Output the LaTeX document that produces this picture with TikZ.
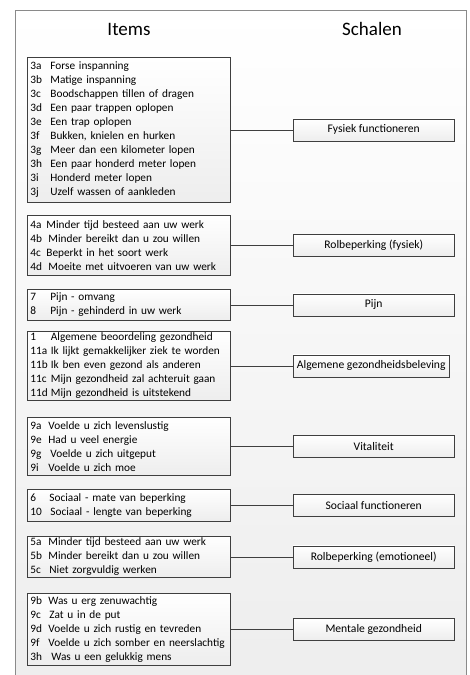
\documentclass[tikz,border=0pt]{standalone}
\usepackage{fontspec}
\setmainfont{Carlito}
\usepackage{tikz}
\usetikzlibrary{positioning, shadows}
\usepackage{xcolor}

\definecolor{lijn}{HTML}{3F3F3F}
\definecolor{kader}{HTML}{8A8A8A}

% number column + item text
\newcommand{\rij}[3][20pt]{\mbox{\makebox[#1][l]{#2}#3}}

\tikzset{
    itembox/.style={draw=lijn, line width=0.8pt, anchor=north west,
        top color=white, bottom color=black!7,
        drop shadow={shadow xshift=1pt, shadow yshift=-1pt, opacity=0.25},
        align=left, text width=197pt, inner xsep=3pt, inner ysep=0pt,
        font=\fontsize{11.3}{14}\selectfont},
    schaalbox/.style={draw=lijn, line width=0.8pt,
        top color=white, bottom color=black!7,
        drop shadow={shadow xshift=1pt, shadow yshift=-1pt, opacity=0.25},
        minimum width=161pt, minimum height=22pt, inner sep=2pt,
        font=\fontsize{11.6}{13}\selectfont},
    verbinding/.style={draw=lijn, line width=0.8pt},
    kop/.style={font=\fontsize{19}{22}\selectfont}
}

\begin{document}
\begin{tikzpicture}[x=1pt, y=-1pt, node distance=62pt]

    \useasboundingbox (0,0) rectangle (470,675);

    % Outer frame
    \draw[kader, line width=0.8pt, top color=white, bottom color=black!7] (15,10) rectangle (466,690);

    % Column titles
    \node[kop] (items) at (129,29) {Items};
    \node[kop] (schalen) at (372,29) {Schalen};

    % Item boxes
    \node[itembox, minimum height=145pt] (i1) at (27,57) {%
        \rij{3a}{Forse inspanning}\\
        \rij{3b}{Matige inspanning}\\
        \rij{3c}{Boodschappen tillen of dragen}\\
        \rij{3d}{Een paar trappen oplopen}\\
        \rij{3e}{Een trap oplopen}\\
        \rij{3f}{Bukken, knielen en hurken}\\
        \rij{3g}{Meer dan een kilometer lopen}\\
        \rij{3h}{Een paar honderd meter lopen}\\
        \rij{3i}{Honderd meter lopen}\\
        \rij{3j}{Uzelf wassen of aankleden}};
    \node[itembox, minimum height=60pt] (i2) at (27,215) {%
        \rij[16pt]{4a}{Minder tijd besteed aan uw werk}\\
        \rij[18pt]{4b}{Minder bereikt dan u zou willen}\\
        \rij[16pt]{4c}{Beperkt in het soort werk}\\
        \rij[18pt]{4d}{Moeite met uitvoeren van uw werk}};
    \node[itembox, minimum height=31pt] (i3) at (27,289) {%
        \rij{7}{Pijn - omvang}\\
        \rij{8}{Pijn - gehinderd in uw werk}};
    \node[itembox, minimum height=69pt] (i4) at (27,331) {%
        \rij[20.5pt]{1}{Algemene beoordeling gezondheid}\\
        \rij[20.5pt]{11a}{Ik lijkt gemakkelijker ziek te worden}\\
        \rij[20.5pt]{11b}{Ik ben even gezond als anderen}\\
        \rij[20.5pt]{11c}{Mijn gezondheid zal achteruit gaan}\\
        \rij[20.5pt]{11d}{Mijn gezondheid is uitstekend}};
    \node[itembox, minimum height=58pt] (i5) at (27,417) {%
        \rij[18pt]{9a}{Voelde u zich levenslustig}\\
        \rij[18pt]{9e}{Had u veel energie}\\
        \rij{9g}{Voelde u zich uitgeput}\\
        \rij[18pt]{9i}{Voelde u zich moe}};
    \node[itembox, minimum height=32pt] (i6) at (27,489) {%
        \rij[19pt]{6}{Sociaal - mate van beperking}\\
        \rij{10}{Sociaal - lengte van beperking}};
    \node[itembox, minimum height=41pt] (i7) at (27,536) {%
        \rij[18pt]{5a}{Minder tijd besteed aan uw werk}\\
        \rij[18pt]{5b}{Minder bereikt dan u zou willen}\\
        \rij[19pt]{5c}{Niet zorgvuldig werken}};
    \node[itembox, minimum height=72pt] (i8) at (27,593) {%
        \rij[18pt]{9b}{Was u erg zenuwachtig}\\
        \rij[19pt]{9c}{Zat u in de put}\\
        \rij[18pt]{9d}{Voelde u zich rustig en tevreden}\\
        \rij[18pt]{9f}{Voelde u zich somber en neerslachtig}\\
        \rij[21pt]{3h}{Was u een gelukkig mens}};

    % Scale boxes
    \node[schaalbox, right=of i1] (s1) {Fysiek functioneren};
    \node[schaalbox, right=of i2] (s2) {Rolbeperking (fysiek)};
    \node[schaalbox, right=of i3] (s3) {Pijn};
    \node[schaalbox, right=of i4, minimum width=156pt] (s4) {Algemene gezondheidsbeleving};
    \node[schaalbox, right=of i5] (s5) {Vitaliteit};
    \node[schaalbox, right=of i6] (s6) {Sociaal functioneren};
    \node[schaalbox, right=of i7] (s7) {Rolbeperking (emotioneel)};
    \node[schaalbox, right=of i8] (s8) {Mentale gezondheid};

    % Connect items to scales
    \draw[verbinding] (i1) -- (s1);
    \draw[verbinding] (i2) -- (s2);
    \draw[verbinding] (i3) -- (s3);
    \draw[verbinding] (i4) -- (s4);
    \draw[verbinding] (i5) -- (s5);
    \draw[verbinding] (i6) -- (s6);
    \draw[verbinding] (i7) -- (s7);
    \draw[verbinding] (i8) -- (s8);

\end{tikzpicture}
\end{document}
